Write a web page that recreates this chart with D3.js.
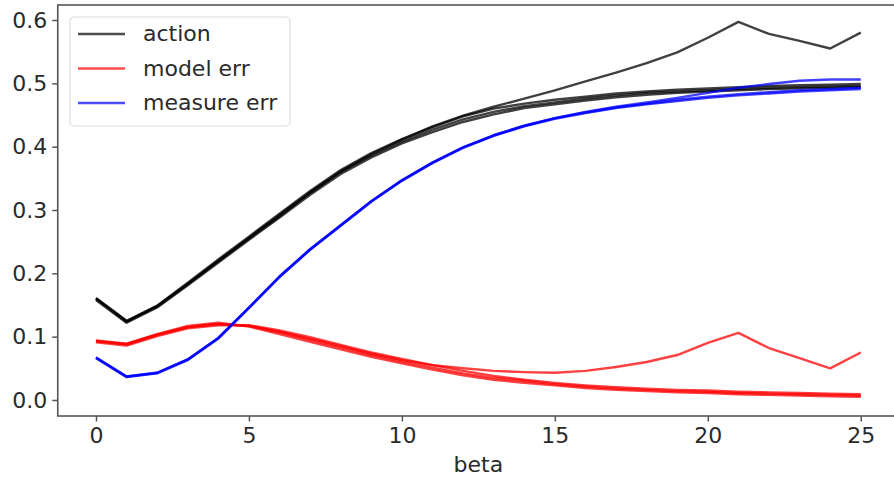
<!DOCTYPE html>
<html>
<head>
<meta charset="utf-8">
<script src="https://cdn.jsdelivr.net/npm/d3@7"></script>
<style>
  body { margin: 0; background: #fff; }
  svg { display: block; font-family: "DejaVu Sans", sans-serif; }
</style>
</head>
<body>
<div id="chart"></div>
<script>
// Data
const beta = [0, 1, 2, 3, 4, 5, 6, 7, 8, 9, 10, 11, 12, 13, 14, 15, 16, 17, 18, 19, 20, 21, 22, 23, 24, 25];

const actionRuns = [
    [0.160, 0.124, 0.148, 0.183, 0.219, 0.255, 0.290, 0.327, 0.360, 0.386, 0.408, 0.427, 0.443, 0.455, 0.464, 0.470, 0.476, 0.481, 0.485, 0.487, 0.489, 0.491, 0.493, 0.494, 0.495, 0.496],
    [0.158, 0.122, 0.146, 0.181, 0.217, 0.253, 0.288, 0.324, 0.357, 0.383, 0.405, 0.423, 0.439, 0.451, 0.461, 0.467, 0.473, 0.478, 0.482, 0.485, 0.487, 0.489, 0.491, 0.492, 0.493, 0.494],
    [0.161, 0.125, 0.149, 0.185, 0.222, 0.258, 0.294, 0.330, 0.363, 0.390, 0.412, 0.431, 0.448, 0.460, 0.468, 0.474, 0.479, 0.484, 0.487, 0.490, 0.492, 0.494, 0.496, 0.497, 0.498, 0.499],
    [0.160, 0.124, 0.148, 0.183, 0.220, 0.256, 0.292, 0.328, 0.361, 0.388, 0.411, 0.432, 0.449, 0.463, 0.476, 0.489, 0.503, 0.517, 0.532, 0.549, 0.572, 0.597, 0.578, 0.567, 0.555, 0.580]
];

const modelErrRuns = [
    [0.093, 0.088, 0.103, 0.115, 0.120, 0.117, 0.107, 0.095, 0.083, 0.071, 0.061, 0.051, 0.042, 0.035, 0.030, 0.025, 0.021, 0.018, 0.016, 0.014, 0.013, 0.011, 0.010, 0.009, 0.008, 0.007],
    [0.091, 0.086, 0.101, 0.113, 0.118, 0.118, 0.110, 0.099, 0.087, 0.075, 0.065, 0.055, 0.046, 0.038, 0.032, 0.027, 0.023, 0.020, 0.018, 0.016, 0.015, 0.013, 0.012, 0.011, 0.010, 0.009],
    [0.094, 0.089, 0.104, 0.117, 0.122, 0.116, 0.104, 0.092, 0.080, 0.068, 0.058, 0.048, 0.039, 0.032, 0.027, 0.023, 0.019, 0.016, 0.014, 0.012, 0.011, 0.009, 0.008, 0.007, 0.006, 0.005],
    [0.093, 0.088, 0.103, 0.115, 0.120, 0.117, 0.108, 0.097, 0.085, 0.073, 0.063, 0.055, 0.050, 0.046, 0.044, 0.043, 0.046, 0.052, 0.060, 0.071, 0.090, 0.106, 0.082, 0.066, 0.050, 0.075]
];

const measureErrRuns = [
    [0.067, 0.037, 0.043, 0.064, 0.098, 0.146, 0.195, 0.238, 0.276, 0.314, 0.347, 0.375, 0.399, 0.418, 0.433, 0.445, 0.454, 0.462, 0.468, 0.474, 0.479, 0.483, 0.486, 0.489, 0.491, 0.493],
    [0.066, 0.036, 0.042, 0.063, 0.097, 0.145, 0.194, 0.237, 0.275, 0.313, 0.346, 0.374, 0.398, 0.417, 0.432, 0.444, 0.453, 0.461, 0.467, 0.472, 0.477, 0.481, 0.484, 0.487, 0.489, 0.491],
    [0.067, 0.037, 0.043, 0.064, 0.098, 0.146, 0.195, 0.238, 0.276, 0.314, 0.347, 0.375, 0.399, 0.418, 0.433, 0.445, 0.455, 0.463, 0.470, 0.477, 0.485, 0.493, 0.499, 0.504, 0.506, 0.506]
];

const seriesNames = ["action", "model err", "measure err"];
const seriesColors = ["#000000", "#ff0000", "#0000ff"];
const xTicks = [0, 5, 10, 15, 20, 25];
const yTicks = [0.0, 0.1, 0.2, 0.3, 0.4, 0.5, 0.6];

// Layout
const width = 894, height = 480;
const plot = { left: 57.75, right: 899, top: 5, bottom: 416 };

const svg = d3.select("#chart")
    .append("svg")
    .attr("width", width)
    .attr("height", height);

const x = d3.scaleLinear().domain([-1.25, 26.25]).range([plot.left, plot.right]);
const y = d3.scaleLinear().domain([-0.0253, 0.6237]).range([plot.bottom, plot.top]);

const line = d3.line()
    .x((d, i) => x(beta[i]))
    .y(d => y(d));

// Lines, each series has a few runs
const groups = [actionRuns, modelErrRuns, measureErrRuns];
groups.forEach((runs, k) => {
    svg.append("g")
        .selectAll("path")
        .data(runs)
        .join("path")
        .attr("d", line)
        .attr("fill", "none")
        .attr("stroke", seriesColors[k])
        .attr("stroke-opacity", 0.75)
        .attr("stroke-width", 2.4)
        .attr("stroke-linejoin", "round");
});

// Axes
const axisColor = "#555";
const xAxis = svg.append("g")
    .attr("transform", `translate(0,${plot.bottom})`)
    .call(d3.axisBottom(x).tickValues(xTicks).tickFormat(d3.format("d")).tickSize(5.5).tickPadding(6));

const yAxis = svg.append("g")
    .attr("transform", `translate(${plot.left},0)`)
    .call(d3.axisLeft(y).tickValues(yTicks).tickFormat(d3.format(".1f")).tickSize(5.5).tickPadding(5));

[xAxis, yAxis].forEach(a => {
    a.select(".domain").remove();
    a.selectAll(".tick line").attr("stroke", axisColor).attr("stroke-width", 1.5);
    a.selectAll(".tick text")
        .attr("fill", "#2a2a2a")
        .style("font-size", "22px")
        .style("font-family", "'DejaVu Sans', sans-serif");
});

// Frame
svg.append("rect")
    .attr("x", plot.left)
    .attr("y", plot.top)
    .attr("width", plot.right - plot.left)
    .attr("height", plot.bottom - plot.top)
    .attr("fill", "none")
    .attr("stroke", axisColor)
    .attr("stroke-width", 1.6);

// x label
svg.append("text")
    .attr("x", (plot.left + plot.right) / 2)
    .attr("y", 472)
    .attr("text-anchor", "middle")
    .attr("fill", "#2a2a2a")
    .style("font-size", "22px")
    .text("beta");

// Legend
const legend = svg.append("g").attr("transform", "translate(70,17)");
legend.append("rect")
    .attr("width", 220)
    .attr("height", 109)
    .attr("rx", 4)
    .attr("fill", "#fff")
    .attr("fill-opacity", 0.8)
    .attr("stroke", "#ddd")
    .attr("stroke-width", 1.2);

const items = legend.selectAll(".legend-item")
    .data(seriesNames)
    .join("g")
    .attr("class", "legend-item")
    .attr("transform", (d, i) => `translate(0,${17 + i * 34.5})`);

items.append("line")
    .attr("x1", 8).attr("x2", 55)
    .attr("stroke", (d, i) => seriesColors[i])
    .attr("stroke-opacity", 0.7)
    .attr("stroke-width", 2.4);

items.append("text")
    .attr("x", 73)
    .attr("dy", "0.33em")
    .attr("fill", "#2a2a2a")
    .style("font-size", "22px")
    .text(d => d);
</script>
</body>
</html>
